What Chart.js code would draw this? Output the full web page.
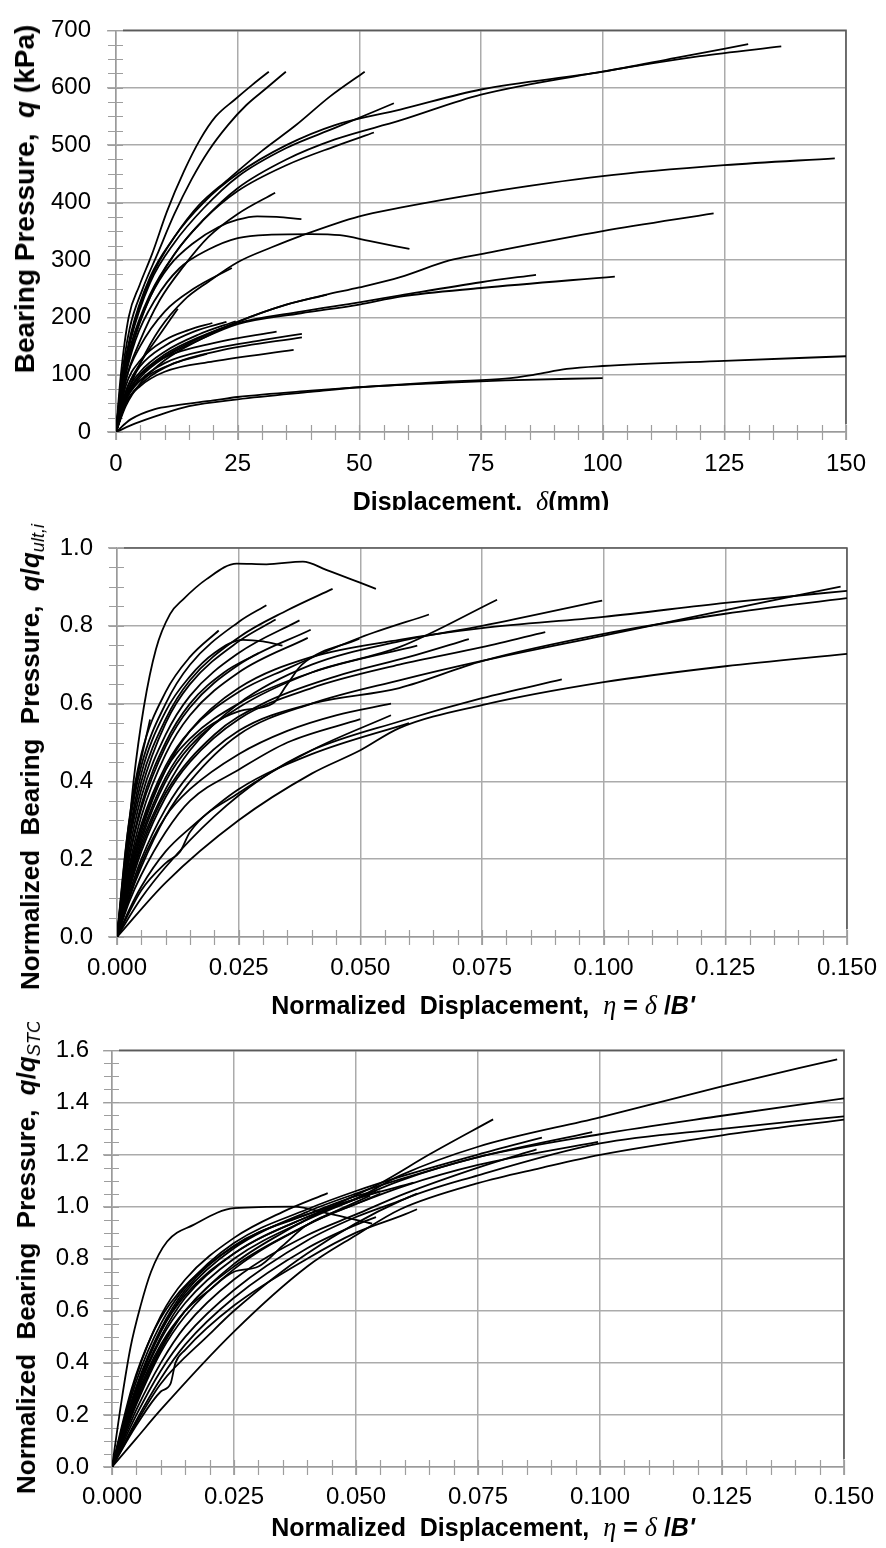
<!DOCTYPE html>
<html>
<head>
<meta charset="utf-8">
<script src="https://cdn.jsdelivr.net/npm/chart.js@4.4.1/dist/chart.umd.min.js"></script>
<style>
body{margin:0;background:#fff;}
#page{position:relative;width:886px;height:1548px;overflow:hidden;background:#fff;font-family:"Liberation Sans",Arial,sans-serif;}
.panel{position:absolute;left:0;width:886px;overflow:hidden;background:#fff;}
.panel canvas{position:absolute;left:0;top:0;}
.ytitle,.xtitle{position:absolute;white-space:nowrap;font-weight:bold;color:#000;line-height:1;}
.ytitle{transform:translate(-50%,-50%) rotate(-90deg);font-size:26px;}
.xtitle{transform:translate(-50%,-50%);font-size:25px;}
.g{font-family:"Liberation Serif","Times New Roman",serif;font-style:italic;font-weight:normal;font-size:1.05em;}
.sb{font-size:0.7em;font-style:italic;font-weight:normal;position:relative;top:0.3em;}
</style>
</head>
<body>
<div id="page">
  <div class="panel" style="top:0;height:510px">
    <canvas id="c1" width="886" height="510"></canvas>
    <div class="ytitle" style="left:25px;top:199px;font-size:28px">Bearing Pressure,&nbsp; <i>q</i> (kPa)</div>
    <div class="xtitle" style="left:481px;top:502px">Displacement,&nbsp; <span class="g">δ</span>(mm)</div>
  </div>
  <div class="panel" style="top:510px;height:512px">
    <canvas id="c2" width="886" height="512"></canvas>
    <div class="ytitle" style="left:30px;top:247px">Normalized&nbsp; Bearing&nbsp; Pressure,&nbsp; <i>q</i>/<i>q</i><span class="sb">ult,i</span></div>
    <div class="xtitle" style="left:483px;top:496px">Normalized&nbsp; Displacement,&nbsp; <span class="g">η</span> = <span class="g">δ</span> /<i>B'</i></div>
  </div>
  <div class="panel" style="top:1022px;height:526px">
    <canvas id="c3" width="886" height="526"></canvas>
    <div class="ytitle" style="left:26px;top:235px">Normalized&nbsp; Bearing&nbsp; Pressure,&nbsp; <i>q</i>/<i>q</i><span class="sb">STC</span></div>
    <div class="xtitle" style="left:483px;top:506px">Normalized&nbsp; Displacement,&nbsp; <span class="g">η</span> = <span class="g">δ</span> /<i>B'</i></div>
  </div>
</div>
<script>
// tick values
const dispTicks = [0, 25, 50, 75, 100, 125, 150];
const pressTicks = [0, 100, 200, 300, 400, 500, 600, 700];
const etaTicks = [0, 0.025, 0.05, 0.075, 0.1, 0.125, 0.15];
const ultTicks = [0, 0.2, 0.4, 0.6, 0.8, 1.0];
const stcTicks = [0, 0.2, 0.4, 0.6, 0.8, 1.0, 1.2, 1.4, 1.6];

// top chart: displacement (mm), bearing pressure (kPa)
const pressureCurves = [
  [[0,0],[1,100],[2.6,200],[4.8,255],[7.4,310],[10.5,385],[14,455],[17.3,510],[20.5,550],[24.5,580],[28,605],[31.4,628]],
  [[0,0],[1,85],[2.8,180],[5.5,250],[8.5,310],[12,380],[15.5,440],[19,490],[23,535],[26.8,570],[31,600],[34.9,628]],
  [[0,0],[1,80],[3,170],[7,270],[12,340],[17,395],[23,440],[30,490],[37,535],[44,585],[51.1,628]],
  [[0,0],[1,75],[3,160],[7,260],[12,330],[18,390],[25,445],[35,495],[45,530],[57.1,573]],
  [[0,0],[1,70],[3,150],[7,240],[12,310],[18,370],[25,420],[35,465],[45,498],[53,522]],
  [[0,0],[1,75],[3,165],[7,265],[12,340],[18,400],[25,450],[35,500],[45,535],[58.4,562],[75,597],[100,628],[115,652],[129.9,676]],
  [[0,0],[1,65],[3,140],[7,235],[12,310],[18,370],[25,425],[35,475],[45,510],[58.4,543],[75,588],[100,628],[120,655],[136.7,672]],
  [[0,0],[2,90],[5,160],[9,230],[14,290],[19,340],[25,380],[32.7,417]],
  [[0,0],[1.5,90],[4,170],[7,235],[11,290],[16,330],[21,357],[25,370],[29,376],[33,375],[38.1,371]],
  [[0,0],[1.5,80],[4,160],[8,230],[13,285],[19,318],[25,338],[32,344],[40,345],[46,343],[52,333],[60.3,319]],
  [[0,0],[2,60],[5,120],[9,180],[14,230],[19,262],[25,296],[32,322],[38,342],[50,376],[58.4,391],[75,416],[100,446],[125,465],[147.7,477]],
  [[0,0],[2,45],[5,85],[10,125],[17,160],[25,192],[35,222],[43,239],[50,252],[58.4,270],[68.5,299],[75,310],[100,350],[122.8,381]],
  [[0,0],[2,60],[5,100],[10,135],[17,165],[25,190],[38,210],[50,226],[58.4,238],[75,261],[86.3,274]],
  [[0,0],[2,55],[5,95],[10,130],[17,160],[25,188],[38,207],[50,222],[58.4,236],[75,251],[102.5,271]],
  [[0,0],[3,75],[8,120],[15,155],[25,192],[35,222],[43.3,239]],
  [[0,0],[2,80],[5,125],[10,160],[15,178],[19.8,190]],
  [[0,0],[2,70],[5,115],[10,150],[16,175],[22.7,192]],
  [[0,0],[2,65],[5,105],[10,140],[17,170],[24.6,193]],
  [[0,0],[2,60],[5,100],[10,130],[20,155],[33,175]],
  [[0,0],[2,55],[5,90],[10,120],[20,145],[30,160],[38.2,171]],
  [[0,0],[2,50],[6,90],[12,120],[22,143],[38.2,165]],
  [[0,0],[2,50],[5,80],[10,105],[20,123],[36.5,143]],
  [[0,0],[2,60],[6,95],[12,120],[18.7,136]],
  [[0,0],[2,70],[5,120],[9,170],[12.7,215]],
  [[0,0],[2,90],[5,150],[10,210],[16,250],[23.8,286]],
  [[0,0],[3,22],[8,40],[12,46],[20,55],[25,61],[40,72],[50,78],[68.5,88],[80,93],[86,100],[92.6,110],[100,115],[125,124],[150,132]],
  [[0,0],[4,15],[9,30],[15,45],[25,57],[40,70],[50,78],[68.5,86],[80,90],[100,94]]
];

// middle chart: eta, q/q_ult,i
const normUltCurves = [
  [[0,0],[0.002,0.22],[0.0034,0.40],[0.0055,0.59],[0.008,0.74],[0.0109,0.83],[0.0136,0.868],[0.0184,0.92],[0.0246,0.96],[0.0307,0.958],[0.0382,0.965],[0.043,0.944],[0.0532,0.895]],
  [[0,0],[0.0025,0.25],[0.005,0.4],[0.01,0.56],[0.015,0.66],[0.025,0.77],[0.035,0.84],[0.0443,0.895]],
  [[0,0],[0.0025,0.28],[0.005,0.44],[0.01,0.6],[0.015,0.7],[0.025,0.81],[0.0307,0.853]],
  [[0,0],[0.0025,0.3],[0.005,0.47],[0.01,0.63],[0.015,0.72],[0.0209,0.788]],
  [[0,0],[0.0025,0.24],[0.005,0.38],[0.01,0.55],[0.015,0.65],[0.025,0.76],[0.0326,0.816]],
  [[0,0],[0.0025,0.22],[0.005,0.36],[0.01,0.52],[0.015,0.62],[0.025,0.73],[0.0375,0.814]],
  [[0,0],[0.0025,0.2],[0.005,0.33],[0.01,0.49],[0.015,0.59],[0.025,0.7],[0.0398,0.79]],
  [[0,0],[0.0025,0.18],[0.005,0.31],[0.01,0.47],[0.015,0.57],[0.025,0.68],[0.0392,0.769]],
  [[0,0],[0.0025,0.26],[0.005,0.42],[0.01,0.58],[0.015,0.67],[0.02,0.73],[0.0259,0.764],[0.03,0.76],[0.034,0.749]],
  [[0,0],[0.0025,0.2],[0.005,0.34],[0.01,0.5],[0.015,0.6],[0.022,0.68],[0.0291,0.73]],
  [[0,0],[0.002,0.25],[0.004,0.4],[0.0068,0.559]],
  [[0,0],[0.0025,0.17],[0.005,0.29],[0.01,0.44],[0.015,0.53],[0.025,0.63],[0.035,0.69],[0.05,0.77],[0.0641,0.829]],
  [[0,0],[0.0025,0.15],[0.005,0.26],[0.01,0.41],[0.015,0.5],[0.025,0.58],[0.032,0.6],[0.035,0.65],[0.038,0.7],[0.0498,0.767]],
  [[0,0],[0.0025,0.14],[0.005,0.25],[0.01,0.4],[0.015,0.49],[0.025,0.59],[0.04,0.68],[0.058,0.745],[0.0781,0.867]],
  [[0,0],[0.0025,0.13],[0.005,0.24],[0.01,0.38],[0.015,0.48],[0.025,0.6],[0.04,0.7],[0.058,0.76],[0.075,0.8],[0.0997,0.865]],
  [[0,0],[0.0025,0.1],[0.005,0.18],[0.01,0.31],[0.015,0.4],[0.025,0.52],[0.04,0.6],[0.058,0.66],[0.075,0.71],[0.1,0.775],[0.125,0.84],[0.1487,0.901]],
  [[0,0],[0.0025,0.15],[0.005,0.27],[0.01,0.43],[0.015,0.53],[0.025,0.64],[0.04,0.72],[0.058,0.764],[0.075,0.794],[0.1,0.823],[0.125,0.859],[0.15,0.89]],
  [[0,0],[0.0025,0.11],[0.005,0.2],[0.01,0.33],[0.015,0.42],[0.025,0.53],[0.04,0.6],[0.058,0.64],[0.075,0.709],[0.1,0.779],[0.125,0.831],[0.15,0.871]],
  [[0,0],[0.01,0.14],[0.025,0.3],[0.04,0.42],[0.05,0.48],[0.058,0.537],[0.075,0.596],[0.1,0.655],[0.125,0.696],[0.15,0.728]],
  [[0,0],[0.005,0.1],[0.01,0.18],[0.02,0.31],[0.03,0.41],[0.04,0.48],[0.058,0.554],[0.075,0.614],[0.0914,0.662]],
  [[0,0],[0.0025,0.12],[0.005,0.22],[0.01,0.36],[0.015,0.45],[0.025,0.56],[0.04,0.64],[0.058,0.7],[0.075,0.745],[0.088,0.784]],
  [[0,0],[0.0025,0.16],[0.005,0.28],[0.01,0.43],[0.015,0.51],[0.025,0.6],[0.04,0.68],[0.0617,0.749]],
  [[0,0],[0.0025,0.13],[0.005,0.23],[0.01,0.37],[0.02,0.52],[0.03,0.6],[0.045,0.67],[0.06,0.72],[0.0723,0.766]],
  [[0,0],[0.005,0.12],[0.01,0.19],[0.013,0.22],[0.015,0.27],[0.025,0.37],[0.04,0.48],[0.0563,0.57]],
  [[0,0],[0.0025,0.07],[0.005,0.13],[0.01,0.22],[0.015,0.28],[0.025,0.38],[0.04,0.47],[0.06,0.55]],
  [[0,0],[0.0025,0.1],[0.005,0.19],[0.01,0.31],[0.015,0.38],[0.025,0.47],[0.035,0.53],[0.045,0.57],[0.0563,0.6]],
  [[0,0],[0.0025,0.09],[0.005,0.16],[0.01,0.27],[0.015,0.35],[0.025,0.43],[0.035,0.5],[0.05,0.56]]
];

// bottom chart: eta, q/q_STC
const normStcCurves = [
  [[0,0],[0.002,0.26],[0.0038,0.46],[0.0058,0.615],[0.008,0.75],[0.0113,0.866],[0.0167,0.93],[0.025,0.994],[0.0372,1.0],[0.044,0.975],[0.0533,0.935]],
  [[0,0],[0.005,0.3],[0.01,0.52],[0.015,0.66],[0.025,0.82],[0.04,0.96],[0.05,1.03],[0.0591,1.12],[0.075,1.23],[0.1,1.343],[0.125,1.462],[0.1486,1.566]],
  [[0,0],[0.005,0.28],[0.01,0.49],[0.015,0.63],[0.025,0.8],[0.04,0.95],[0.05,1.03],[0.0591,1.1],[0.075,1.19],[0.1,1.278],[0.125,1.349],[0.15,1.416]],
  [[0,0],[0.005,0.17],[0.01,0.32],[0.02,0.51],[0.025,0.6],[0.04,0.82],[0.0592,1.023],[0.075,1.12],[0.1,1.243],[0.125,1.299],[0.15,1.347]],
  [[0,0],[0.005,0.11],[0.01,0.22],[0.025,0.52],[0.04,0.77],[0.05,0.89],[0.0591,0.99],[0.075,1.09],[0.0878,1.148],[0.1,1.199],[0.125,1.274],[0.15,1.334]],
  [[0,0],[0.005,0.26],[0.01,0.46],[0.015,0.6],[0.025,0.78],[0.035,0.9],[0.045,1.0],[0.055,1.09],[0.065,1.2],[0.0781,1.335]],
  [[0,0],[0.005,0.3],[0.01,0.52],[0.015,0.67],[0.025,0.84],[0.04,0.98],[0.05,1.05],[0.06,1.11],[0.075,1.19],[0.0984,1.286]],
  [[0,0],[0.005,0.24],[0.01,0.44],[0.015,0.58],[0.025,0.76],[0.04,0.93],[0.05,1.01],[0.06,1.08],[0.075,1.16],[0.0996,1.249]],
  [[0,0],[0.005,0.33],[0.01,0.55],[0.015,0.69],[0.025,0.86],[0.04,0.99],[0.05,1.06],[0.06,1.12],[0.075,1.2],[0.0881,1.265]],
  [[0,0],[0.005,0.35],[0.01,0.58],[0.015,0.72],[0.025,0.88],[0.035,0.98],[0.0442,1.052]],
  [[0,0],[0.005,0.29],[0.01,0.5],[0.015,0.65],[0.025,0.82],[0.04,0.96],[0.05,1.03],[0.0618,1.092]],
  [[0,0],[0.005,0.25],[0.01,0.45],[0.015,0.6],[0.025,0.77],[0.04,0.93],[0.0529,1.042]],
  [[0,0],[0.005,0.27],[0.01,0.47],[0.015,0.6],[0.02,0.68],[0.025,0.75],[0.03,0.77],[0.035,0.85],[0.04,0.93],[0.05,1.01],[0.055,1.05]],
  [[0,0],[0.005,0.16],[0.01,0.29],[0.012,0.32],[0.013,0.4],[0.015,0.45],[0.025,0.62],[0.04,0.8],[0.05,0.9],[0.06,0.97],[0.0625,0.99]],
  [[0,0],[0.005,0.31],[0.01,0.53],[0.015,0.68],[0.025,0.85],[0.04,0.97],[0.05,1.04],[0.0541,1.06]],
  [[0,0],[0.005,0.22],[0.01,0.4],[0.015,0.54],[0.025,0.72],[0.04,0.89],[0.05,0.97],[0.06,1.05],[0.075,1.15],[0.087,1.22]],
  [[0,0],[0.005,0.2],[0.01,0.37],[0.015,0.5],[0.025,0.68],[0.04,0.87],[0.05,0.96],[0.06,1.03],[0.0625,1.05]],
  [[0,0],[0.005,0.18],[0.01,0.34],[0.015,0.47],[0.025,0.65],[0.04,0.84],[0.05,0.93],[0.0541,0.96]],
  [[0,0],[0.004,0.3],[0.008,0.5],[0.012,0.63],[0.02,0.78],[0.03,0.9],[0.04,0.97],[0.05,1.03],[0.055,1.06]]
];

const FONT = '"Liberation Sans", Arial, sans-serif';
const GRID = '#ababab';

// small crossing ticks between the major gridlines, plus the darker top/right frame
const minorTicks = {
  id: 'minorTicks',
  beforeDatasetsDraw(chart, args, opts) {
    const ctx = chart.ctx, a = chart.chartArea, x = chart.scales.x, y = chart.scales.y;
    ctx.save();
    ctx.strokeStyle = '#9e9e9e';
    ctx.lineWidth = 1.2;
    ctx.beginPath();
    const nx = Math.round((x.max - x.min) / opts.xStep);
    for (let i = 0; i <= nx; i++) {
      const px = Math.round(x.getPixelForValue(x.min + i * opts.xStep)) + 0.5;
      ctx.moveTo(px, a.bottom - 7);
      ctx.lineTo(px, a.bottom + 8);
    }
    const ny = Math.round((y.max - y.min) / opts.yStep);
    for (let i = 0; i <= ny; i++) {
      const py = Math.round(y.getPixelForValue(y.min + i * opts.yStep)) + 0.5;
      ctx.moveTo(a.left - 8, py);
      ctx.lineTo(a.left + 7, py);
    }
    ctx.stroke();
    ctx.strokeStyle = '#5a5a5a';
    ctx.lineWidth = 1.6;
    ctx.beginPath();
    ctx.moveTo(a.left + 7, a.top);
    ctx.lineTo(a.right, a.top);
    ctx.lineTo(a.right, a.bottom - 8);
    ctx.stroke();
    ctx.restore();
  }
};

function makeChart(id, curves, c) {
  new Chart(document.getElementById(id), {
    type: 'scatter',
    data: {
      datasets: curves.map(pts => ({
        data: pts.map(p => ({x: p[0], y: p[1]})),
        showLine: true,
        borderColor: '#000',
        borderWidth: 1.8,
        pointRadius: 0,
        cubicInterpolationMode: 'monotone',
        fill: false
      }))
    },
    options: {
      responsive: false,
      animation: false,
      events: [],
      layout: {padding: {top: c.top, right: c.right, left: 0, bottom: 0}},
      plugins: {
        legend: {display: false},
        tooltip: {enabled: false},
        minorTicks: {xStep: c.xMinor, yStep: c.yMinor}
      },
      scales: {
        x: {
          type: 'linear',
          min: c.xTicks[0],
          max: c.xTicks[c.xTicks.length - 1],
          afterBuildTicks: s => { s.ticks = c.xTicks.map(v => ({value: v})); },
          afterFit: s => { s.height = c.xHeight; },
          grid: {color: GRID, lineWidth: 1.5, tickLength: 8, tickColor: GRID},
          border: {color: '#9a9a9a', width: 1.5},
          ticks: {autoSkip: false, maxRotation: 0, padding: c.xPad, color: '#000',
                  font: {family: FONT, size: 24}, callback: v => c.xFmt(v)}
        },
        y: {
          type: 'linear',
          min: c.yTicks[0],
          max: c.yTicks[c.yTicks.length - 1],
          afterBuildTicks: s => { s.ticks = c.yTicks.map(v => ({value: v})); },
          afterFit: s => { s.width = c.left; },
          grid: {color: GRID, lineWidth: 1.5, tickLength: 9, tickColor: GRID},
          border: {color: '#9a9a9a', width: 1.5},
          ticks: {padding: c.yPad, color: '#000',
                  font: {family: FONT, size: 24}, callback: v => c.yFmt(v)}
        }
      }
    },
    plugins: [minorTicks]
  });
}

makeChart('c1', pressureCurves, {
  xTicks: dispTicks, yTicks: pressTicks, xMinor: 5, yMinor: 25,
  left: 116, right: 40, top: 25, xHeight: 78, xPad: 10, yPad: 16,
  xFmt: v => String(v), yFmt: v => String(v)
});
makeChart('c2', normUltCurves, {
  xTicks: etaTicks, yTicks: ultTicks, xMinor: 0.005, yMinor: 0.05,
  left: 117, right: 37, top: 38, xHeight: 85, xPad: 9, yPad: 15,
  xFmt: v => v.toFixed(3), yFmt: v => v.toFixed(1)
});
makeChart('c3', normStcCurves, {
  xTicks: etaTicks, yTicks: stcTicks, xMinor: 0.005, yMinor: 0.05,
  left: 112, right: 42, top: 20, xHeight: 81, xPad: 8, yPad: 14,
  xFmt: v => v.toFixed(3), yFmt: v => v.toFixed(1)
});
</script>
</body>
</html>
